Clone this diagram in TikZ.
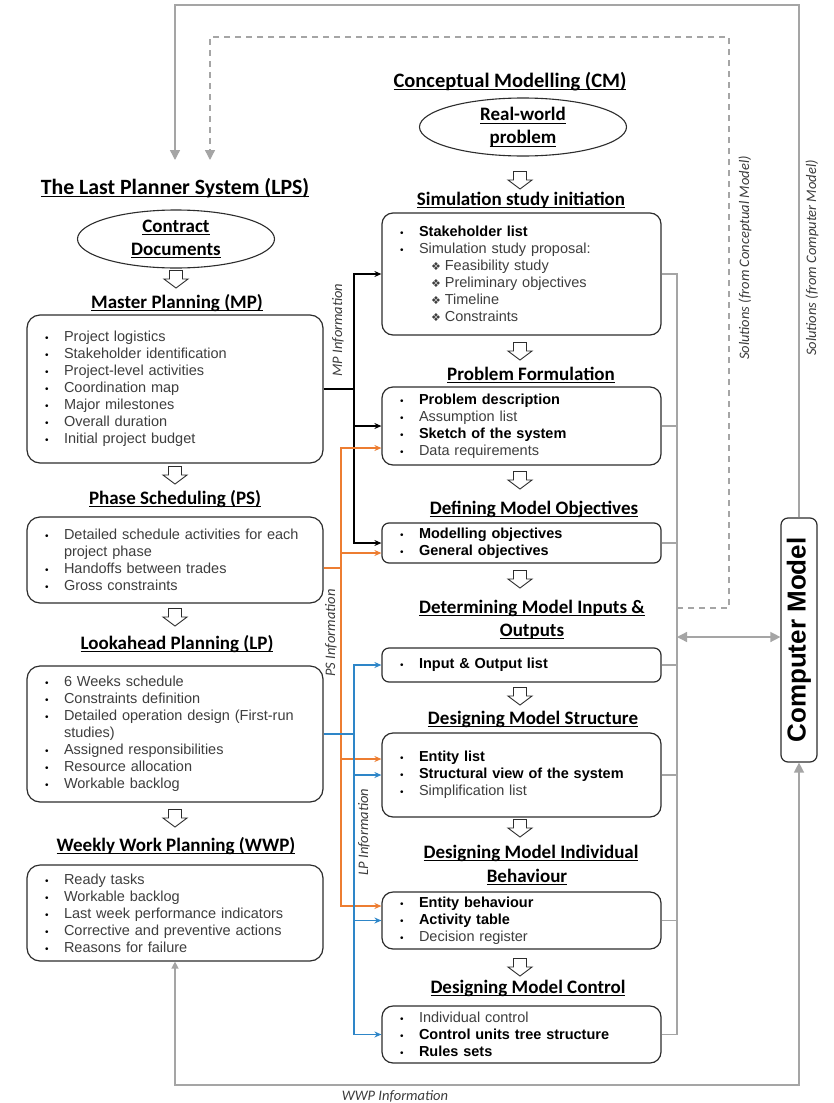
\documentclass[tikz,border=0pt]{standalone}
\usepackage{fontspec}
\setmainfont{Liberation Sans}
\newfontfamily\titlefont{Carlito}
\newfontfamily\symfont{DejaVu Sans}
\usetikzlibrary{arrows.meta,shapes.geometric,calc}

\definecolor{bodytext}{RGB}{62,62,62}
\definecolor{edge}{RGB}{45,45,45}
\definecolor{wire}{RGB}{165,165,165}
\definecolor{psline}{RGB}{237,125,49}
\definecolor{lpline}{RGB}{46,134,200}
\definecolor{labeltext}{RGB}{60,60,60}

% underlined heading text (rule sits just under the baseline)
\newsavebox\ulbox
\newcommand\titleul[1]{\sbox\ulbox{#1}\rlap{\rule[-3.2pt]{\wd\ulbox}{0.9pt}}\usebox\ulbox}

% list items: plain, bold and diamond sub-items
\newcommand\bul{\makebox[19pt][l]{\fontsize{10}{17}\selectfont\textbullet}}
\newcommand\itn[1]{\bul{\color{bodytext}#1}}
\newcommand\itb[1]{\bul\textbf{#1}}
\newcommand\cont[1]{\hspace*{19pt}{\color{bodytext}#1}}
\newcommand\subit[1]{\hspace*{31pt}{\symfont\fontsize{11}{17}\selectfont\color{bodytext}❖}\hspace{4pt}{\color{bodytext}#1}}

\tikzset{
  every node/.style={inner sep=0pt},
  listbox/.style={draw=edge, line width=1.2pt, align=left, inner xsep=18pt, inner ysep=0pt,
    font=\fontsize{14.5}{17}\selectfont},
  lpsbox/.style={listbox, rounded corners=13pt, text width=260pt},
  cmbox/.style={listbox, rounded corners=11pt, text width=243pt},
  cmsmall/.style={listbox, rounded corners=7pt, text width=243pt},
  bigtitle/.style={anchor=base, font=\titlefont\bfseries\fontsize{20.5}{24}\selectfont},
  sectitle/.style={anchor=base, font=\titlefont\bfseries\fontsize{19}{23}\selectfont},
  oval/.style={ellipse, draw=edge, line width=1.1pt, minimum height=58pt, align=center,
    font=\titlefont\bfseries\fontsize{19}{23}\selectfont},
  infolabel/.style={text=labeltext, font=\titlefont\itshape\fontsize{14.5}{17}\selectfont},
  wirestyle/.style={draw=wire, line width=1.4pt},
  mpwire/.style={draw=black, line width=1.4pt},
  pswire/.style={draw=psline, line width=1.4pt},
  lpwire/.style={draw=lpline, line width=1.4pt},
  infotip/.style={-{Stealth[length=7pt,width=6pt]}},
  graytip/.style={-{Triangle[length=10pt,width=10pt]}},
  stepdown/.pic={\draw[edge, line width=0.9pt, fill=white, line join=miter]
    (-6.5,-8.5)--(6.5,-8.5)--(6.5,0)--(12,0)--(0,9)--(-12,0)--(-6.5,0)--cycle;}
}

\begin{document}
\begin{tikzpicture}[x=1pt,y=-1pt]
\useasboundingbox[fill=white] (0,0) rectangle (833,1103);

% ---------------- Last Planner System column ----------------
\node[bigtitle, font=\titlefont\bfseries\fontsize{21.8}{24}\selectfont] (lpstitle) at (175,194)
  {\titleul{The Last Planner System (LPS)}};
\node[oval, minimum width=197pt] (contract) at (176,239) {\titleul{Contract}\\\titleul{Documents}};
\pic at (176,279) {stepdown};
\node[sectitle] (mptitle) at (177,308) {\titleul{Master Planning (MP)}};
\node[lpsbox, minimum height=148pt] (mp) at (175,389) {%
  \itn{Project logistics}\\\itn{Stakeholder identification}\\\itn{Project-level activities}\\
  \itn{Coordination map}\\\itn{Major milestones}\\\itn{Overall duration}\\\itn{Initial project budget}};
\pic at (175,475) {stepdown};
\node[sectitle] (pstitle) at (175,504) {\titleul{Phase Scheduling (PS)}};
\node[lpsbox, minimum height=86pt] (ps) at (175,560) {%
  \itn{Detailed schedule activities for each}\\\cont{project phase}\\
  \itn{Handoffs between trades}\\\itn{Gross constraints}};
\pic at (175,617) {stepdown};
\node[sectitle] (lptitle) at (177,649) {\titleul{Lookahead Planning (LP)}};
\node[lpsbox, minimum height=136pt] (lp) at (175,734) {%
  \itn{6 Weeks schedule}\\\itn{Constraints definition}\\\itn{Detailed operation design (First-run}\\
  \cont{studies)}\\\itn{Assigned responsibilities}\\\itn{Resource allocation}\\\itn{Workable backlog}};
\pic at (175,818) {stepdown};
\node[sectitle] (wwptitle) at (176,851) {\titleul{Weekly Work Planning (WWP)}};
\node[lpsbox, minimum height=96pt] (wwp) at (175,913) {%
  \itn{Ready tasks}\\\itn{Workable backlog}\\\itn{Last week performance indicators}\\
  \itn{Corrective and preventive actions}\\\itn{Reasons for failure}};

% ---------------- Conceptual Modelling column ----------------
\node[bigtitle] (cmtitle) at (510,87) {\titleul{Conceptual Modelling (CM)}};
\node[oval, minimum width=207pt] (realworld) at (523,127) {\titleul{Real-world}\\\titleul{problem}};
\pic at (520,180) {stepdown};
\node[sectitle] (simtitle) at (521,205) {\titleul{Simulation study initiation}};
\node[cmbox, minimum height=122pt] (sim) at (521.5,274) {%
  \itb{Stakeholder list}\\\itn{Simulation study proposal:}\\\subit{Feasibility study}\\
  \subit{Preliminary objectives}\\\subit{Timeline}\\\subit{Constraints}};
\pic at (520,351) {stepdown};
\node[sectitle] (pftitle) at (531,380) {\titleul{Problem Formulation}};
\node[cmbox, minimum height=78pt] (pf) at (521.5,426) {%
  \itb{Problem description}\\\itn{Assumption list}\\\itb{Sketch of the system}\\\itn{Data requirements}};
\pic at (520,480) {stepdown};
\node[sectitle] (dmotitle) at (534,514) {\titleul{Defining Model Objectives}};
\node[cmsmall, minimum height=40pt] (dmo) at (521.5,543) {%
  \itb{Modelling objectives}\\\itb{General objectives}};
\pic at (520,579) {stepdown};
\node[sectitle] (iotitleA) at (532,613) {\titleul{Determining Model Inputs \&}};
\node[sectitle] (iotitleB) at (532,636) {\titleul{Outputs}};
\node[cmsmall, minimum height=34pt] (io) at (521.5,665) {\itb{Input \& Output list}};
\pic at (520,696) {stepdown};
\node[sectitle] (dmstitle) at (533,724) {\titleul{Designing Model Structure}};
\node[cmbox, minimum height=84pt] (dms) at (521.5,775) {%
  \itb{Entity list}\\\itb{Structural view of the system}\\\itn{Simplification list}};
\pic at (520,828) {stepdown};
\node[sectitle] (dmibtitleA) at (531,858) {\titleul{Designing Model Individual}};
\node[sectitle] (dmibtitleB) at (527,882) {\titleul{Behaviour}};
\node[cmbox, minimum height=57pt] (dmib) at (521.5,920.5) {%
  \itb{Entity behaviour}\\\itb{Activity table}\\\itn{Decision register}};
\pic at (520,967) {stepdown};
\node[sectitle] (dmctitle) at (528,993) {\titleul{Designing Model Control}};
\node[cmbox, minimum height=57pt] (dmc) at (521.5,1034.5) {%
  \itn{Individual control}\\\itb{Control units tree structure}\\\itb{Rules sets}};

% ---------------- Computer model ----------------
\node[draw=edge, line width=1.2pt, rounded corners=7pt, minimum width=36pt, minimum height=244pt]
  (compmodel) at (799,640) {\rotatebox{90}{\fontsize{26}{26}\selectfont\bfseries Computer Model}};

% ---------------- feedback wiring (grey) ----------------
\coordinate (spinetop) at (677,274);
\coordinate (spinebot) at (677,1034.5);
\coordinate (cmlink) at (677,637);
\coordinate (dashstart) at (677,608);
\coordinate (lpsin1) at (175,160);
\coordinate (lpsin2) at (210,160);
\draw[wirestyle] (sim.east) -- (spinetop) -- (spinebot) -- (dmc.east);
\foreach \b in {pf,dmo,io,dms,dmib} \draw[wirestyle] (\b.east) -- (\b.east -| spinetop);
\draw[wirestyle, {Triangle[length=10pt,width=10pt]}-{Triangle[length=10pt,width=10pt]}]
  (cmlink) -- (cmlink -| compmodel.west);
\draw[wirestyle, dashed, dash pattern=on 6pt off 5pt, graytip]
  (dashstart) -- (729,608) -- (729,37) -- (210,37) -- (lpsin2);
\draw[wirestyle, graytip] (compmodel.north) -- (799,5) -- (175,5) -- (lpsin1);
\draw[wirestyle, {Triangle[length=7pt,width=7pt]}-{Triangle[length=10pt,width=10pt]}]
  (wwp.south) -- (175,1085) -- (799,1085) -- (compmodel.south);

\node[infolabel, rotate=90] (solcm) at (745,258) {Solutions (from Conceptual Model)};
\node[infolabel, rotate=90] (solcomp) at (812,258) {Solutions (from Computer Model)};
\node[infolabel] (wwpinfo) at (395,1096) {WWP Information};

% ---------------- MP information (black) ----------------
\coordinate (mpbus) at (354,389);
\draw[mpwire] (mp.east) -- (mpbus);
\draw[mpwire, infotip] (mpbus) |- (sim.west);
\draw[mpwire, infotip] (mpbus) |- (pf.west);
\draw[mpwire, infotip] (mpbus) |- (dmo.west);
\node[infolabel, rotate=90] (mplabel) at (338,330) {MP Information};

% ---------------- PS information (orange) ----------------
\coordinate (psbus) at (341,568);
\draw[pswire] ([yshift=-8pt]ps.east) -- (psbus);
\draw[pswire, infotip] (psbus) |- ([yshift=-22pt]pf.west);
\draw[pswire, infotip] (psbus) |- ([yshift=-10pt]dmo.west);
\draw[pswire, infotip] (psbus) |- ([yshift=16pt]dms.west);
\draw[pswire, infotip] (psbus) |- ([yshift=14.5pt]dmib.west);
\node[infolabel, rotate=90] (pslabel) at (331,633) {PS Information};

% ---------------- LP information (blue) ----------------
\coordinate (lpbus) at (354,734);
\draw[lpwire] (lp.east) -- (lpbus);
\draw[lpwire, infotip] (lpbus) |- (io.west);
\draw[lpwire, infotip] (lpbus) |- (dms.west);
\draw[lpwire, infotip] (lpbus) |- (dmib.west);
\draw[lpwire, infotip] (lpbus) |- (dmc.west);
\node[infolabel, rotate=90] (lplabel) at (364,832) {LP Information};

\end{tikzpicture}
\end{document}
